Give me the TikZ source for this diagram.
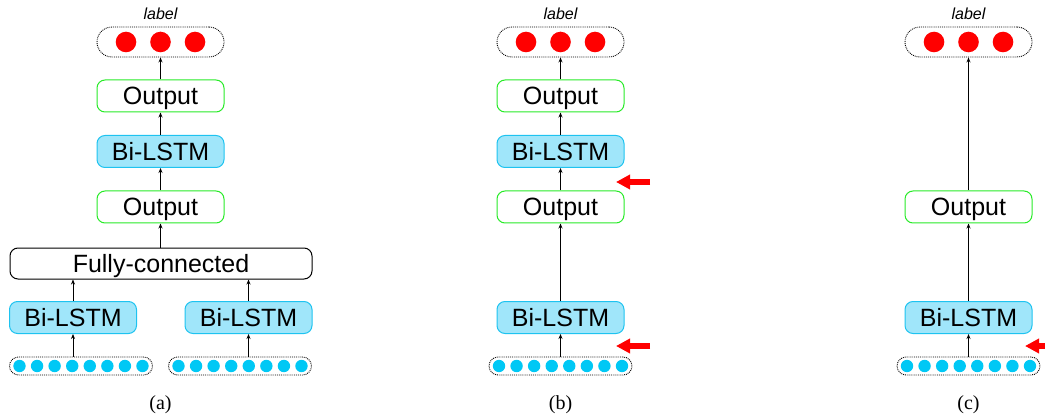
\documentclass[tikz,border=0pt]{standalone}
\usepackage{fontspec}
\setmainfont{Liberation Serif}
\setsansfont{Liberation Sans}
\usetikzlibrary{arrows.meta}
\definecolor{lstmfill}{RGB}{160,230,250}
\definecolor{lstmdraw}{RGB}{30,195,240}
\definecolor{outdraw}{RGB}{40,235,40}
\definecolor{dotcyan}{RGB}{0,200,245}
\definecolor{dotred}{RGB}{255,0,0}
\begin{document}
\begin{tikzpicture}[x=1pt,y=-1pt,
  box/.style={rounded corners=8pt, line width=1pt, minimum height=32pt, inner sep=0pt,
    text depth=0pt, font=\sffamily\fontsize{25}{25}\selectfont},
  outbox/.style={box, draw=outdraw, fill=white, minimum width=127pt},
  lstmbox/.style={box, draw=lstmdraw, fill=lstmfill, minimum width=127pt},
  fcbox/.style={box, draw=black, fill=white, minimum width=302pt, minimum height=31pt},
  labelbox/.style={draw=black, densely dotted, line width=0.9pt, rounded corners=15pt,
    minimum width=127pt, minimum height=30pt, inner sep=0pt},
  inbox/.style={draw=black, densely dotted, line width=0.9pt, rounded corners=9pt,
    minimum width=143pt, minimum height=18pt, inner sep=0pt},
  reddot/.style={fill=dotred},
  cyandot/.style={fill=dotcyan},
  lbltext/.style={font=\sffamily\itshape\fontsize{16}{16}\selectfont},
  captext/.style={font=\fontsize{20}{20}\selectfont},
  conn/.style={line width=0.9pt, -{Stealth[length=5pt,width=4pt]}},
  redarrow/.style={draw=dotred, line width=6pt, -{Triangle[length=14pt,width=14pt]}}
]
\useasboundingbox (0,0) rectangle (1045,417);

% ---------- macros for dots ----------
\newcommand{\labeldots}[2]{%
  \foreach \dx in {-34.5,0,34.5} \fill[reddot] (#1+\dx,#2) circle (10.3pt);}
\newcommand{\indots}[2]{%
  \foreach \k in {0,...,7} \fill[cyandot] (#1-61.5+17.57*\k,#2) circle (6.2pt);}

% ================= (a) =================
\node[labelbox] (aL) at (160.5,42) {};
\labeldots{160.5}{42}
\node[lbltext] (aLt) at (160.5,14) {label};
\node[outbox] (aO2) at (160.5,96) {Output};
\node[lstmbox] (aB2) at (160.5,151.5) {Bi-LSTM};
\node[outbox] (aO1) at (160.5,207) {Output};
\node[fcbox] (aFC) at (161,263.5) {Fully-connected};
\node[lstmbox] (aBL) at (73,317.5) {Bi-LSTM};
\node[lstmbox] (aBR) at (248.5,317.5) {Bi-LSTM};
\node[inbox] (aIL) at (81,366) {};
\indots{81}{366}
\node[inbox] (aIR) at (240,366) {};
\indots{240}{366}
\draw[conn] (aBL.south |- aIL.north) -- (aBL.south);
\draw[conn] (aBR.south |- aIR.north) -- (aBR.south);
\draw[conn] (aBL.north) -- (aBL.north |- aFC.south);
\draw[conn] (aBR.north) -- (aBR.north |- aFC.south);
\draw[conn] (aO1.south |- aFC.north) -- (aO1.south);
\draw[conn] (aO1) -- (aB2);
\draw[conn] (aB2) -- (aO2);
\draw[conn] (aO2) -- (aL);
\node[captext] (aCap) at (160.5,405) {(a)};

% ================= (b) =================
\node[labelbox] (bL) at (560.5,42) {};
\labeldots{560.5}{42}
\node[lbltext] (bLt) at (560.5,14) {label};
\node[outbox] (bO2) at (560.5,96) {Output};
\node[lstmbox] (bB2) at (560.5,151.5) {Bi-LSTM};
\node[outbox] (bO1) at (560.5,207) {Output};
\node[lstmbox] (bB1) at (560.5,317.5) {Bi-LSTM};
\node[inbox] (bI) at (560.5,366) {};
\indots{560.5}{366}
\draw[conn] (bI) -- (bB1);
\draw[conn] (bB1) -- (bO1);
\draw[conn] (bO1) -- (bB2);
\draw[conn] (bB2) -- (bO2);
\draw[conn] (bO2) -- (bL);
\coordinate (bR1s) at (650,182);
\coordinate (bR1e) at (616,182);
\coordinate (bR2s) at (650,346);
\coordinate (bR2e) at (616,346);
\draw[redarrow] (bR1s) -- (bR1e);
\draw[redarrow] (bR2s) -- (bR2e);
\node[captext] (bCap) at (560.5,405) {(b)};

% ================= (c) =================
\node[labelbox] (cL) at (968.5,42) {};
\labeldots{968.5}{42}
\node[lbltext] (cLt) at (968.5,14) {label};
\node[outbox] (cO1) at (968.5,207) {Output};
\node[lstmbox] (cB1) at (968.5,317.5) {Bi-LSTM};
\node[inbox] (cI) at (968.5,366) {};
\indots{968.5}{366}
\draw[conn] (cI) -- (cB1);
\draw[conn] (cB1) -- (cO1);
\draw[conn] (cO1) -- (cL);
\coordinate (cRs) at (1059,346);
\coordinate (cRe) at (1025,346);
\draw[redarrow] (cRs) -- (cRe);
\node[captext] (cCap) at (968.5,405) {(c)};
\end{tikzpicture}
\end{document}
